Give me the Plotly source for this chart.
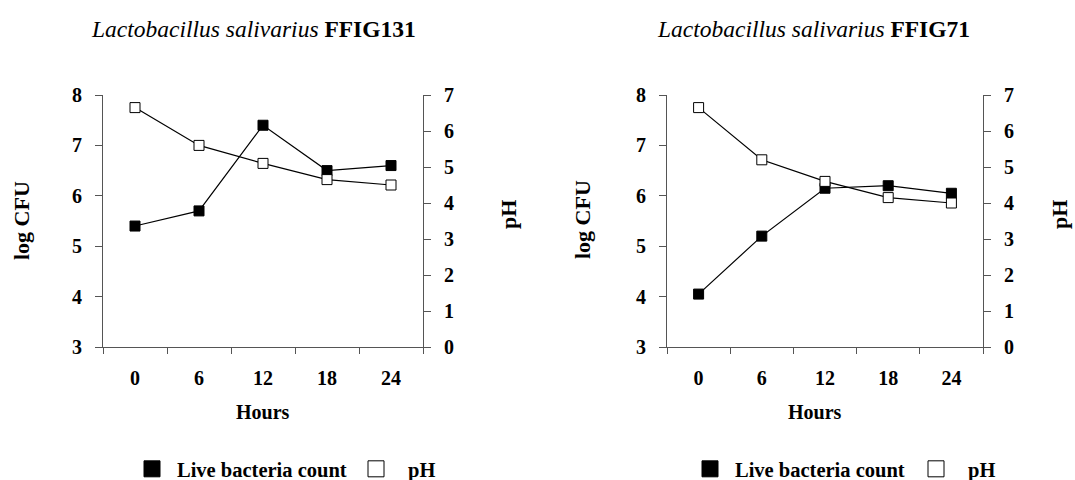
import plotly.graph_objects as go

# ---- data ----
hours = ["0", "6", "12", "18", "24"]
live_131 = [5.4, 5.7, 7.4, 6.5, 6.6]
ph_131 = [6.65, 5.6, 5.1, 4.65, 4.5]
live_71 = [4.05, 5.2, 6.15, 6.2, 6.05]
ph_71 = [6.65, 5.2, 4.6, 4.15, 4.0]
titles = ["<i>Lactobacillus salivarius</i> <b>FFIG131</b>",
          "<i>Lactobacillus salivarius</i> <b>FFIG71</b>"]
series_names = ["Live bacteria count", "pH"]
left_ticks = [3, 4, 5, 6, 7, 8]
right_ticks = [0, 1, 2, 3, 4, 5, 6, 7]

W, H = 1075, 480
FONT = "Liberation Serif"
AX = "#555555"


def px(x):
    return x / W


def py(y):
    return 1 - y / H


fig = go.Figure()

panels = [
    dict(live=live_131, ph=ph_131, title=titles[0], x0=103, x1=423,
         xa="x", ya="y", ya2="y2", legends=("legend", "legend2"), lx=(127, 344),
         ttl_x=253, ylab_x=22, phlab_x=508, hours_x=263),
    dict(live=live_71, ph=ph_71, title=titles[1], x0=667, x1=983,
         xa="x2", ya="y3", ya2="y4", legends=("legend3", "legend4"), lx=(685, 904),
         ttl_x=813, ylab_x=583, phlab_x=1059, hours_x=815),
]

marker_line = dict(color="black", width=1)
for p in panels:
    fig.add_trace(go.Scatter(
        x=hours, y=p["live"], xaxis=p["xa"], yaxis=p["ya"], mode="lines+markers",
        line=dict(color="black", width=1.2),
        marker=dict(symbol="square", size=10, color="black", line=marker_line),
        showlegend=False, name=series_names[0]))
    fig.add_trace(go.Scatter(
        x=hours, y=p["ph"], xaxis=p["xa"], yaxis=p["ya2"], mode="lines+markers",
        line=dict(color="black", width=1.2),
        marker=dict(symbol="square", size=10, color="white", line=marker_line),
        showlegend=False, name=series_names[1]))
    # legend-only entries
    fig.add_trace(go.Scatter(
        x=[None], y=[None], xaxis=p["xa"], yaxis=p["ya"], mode="markers",
        marker=dict(symbol="square", size=16, color="black", line=marker_line),
        name=series_names[0], legend=p["legends"][0]))
    fig.add_trace(go.Scatter(
        x=[None], y=[None], xaxis=p["xa"], yaxis=p["ya"], mode="markers",
        marker=dict(symbol="square", size=16, color="white", line=marker_line),
        name=series_names[1], legend=p["legends"][1]))

ydom = [py(347), py(95)]
tickfont = dict(family=FONT, size=20, color="black", weight="bold")


def xaxis_cfg(x0, x1, anchor):
    return dict(domain=[px(x0), px(x1)], anchor=anchor, type="category",
                categoryorder="array", categoryarray=hours,
                range=[-0.5, 4.5], tickson="boundaries", ticks="outside",
                ticklen=6, tickcolor=AX, showline=True, linecolor=AX, linewidth=1,
                showgrid=False, zeroline=False, tickfont=tickfont,
                ticklabelstandoff=13, fixedrange=True)


def yaxis_left(anchor):
    return dict(domain=ydom, anchor=anchor, range=[3, 8], tickvals=left_ticks,
                ticks="outside", ticklen=7, tickcolor=AX, showline=True,
                linecolor=AX, linewidth=1, showgrid=False, zeroline=False,
                tickfont=tickfont, ticklabelstandoff=9)


def yaxis_right(anchor, overlay):
    return dict(domain=ydom, anchor=anchor, overlaying=overlay, side="right",
                range=[0, 7], tickvals=right_ticks, ticks="outside", ticklen=7,
                tickcolor=AX, showline=True, linecolor=AX, linewidth=1,
                showgrid=False, zeroline=False, tickfont=tickfont,
                ticklabelstandoff=9)


def legend_cfg(x, itemwidth):
    return dict(x=px(x), y=py(469), orientation="h", yanchor="middle", xanchor="left",
                itemwidth=itemwidth,
                font=dict(family=FONT, size=20.5, color="black", weight="bold"),
                bgcolor="rgba(0,0,0,0)", itemclick=False, itemdoubleclick=False)


fig.update_layout(
    width=W, height=H, margin=dict(l=0, r=0, t=0, b=0, pad=0, autoexpand=False),
    paper_bgcolor="white", plot_bgcolor="white",
    font=dict(family=FONT, color="black"),
    xaxis=xaxis_cfg(103, 423, "y"),
    yaxis=yaxis_left("x"),
    yaxis2=yaxis_right("x", "y"),
    xaxis2=xaxis_cfg(667, 983, "y3"),
    yaxis3=yaxis_left("x2"),
    yaxis4=yaxis_right("x2", "y3"),
    legend=legend_cfg(panels[0]["lx"][0], 40),
    legend2=legend_cfg(panels[0]["lx"][1], 54),
    legend3=legend_cfg(panels[1]["lx"][0], 40),
    legend4=legend_cfg(panels[1]["lx"][1], 54),
)

ann_font = dict(family=FONT, size=22, color="black", weight="bold")
for p in panels:
    fig.add_annotation(text=p["title"], x=px(p["ttl_x"]), y=py(29), xref="paper",
                       yref="paper", showarrow=False, xanchor="center", yanchor="middle",
                       font=dict(family=FONT, size=23.5, color="black"))
    fig.add_annotation(text="log CFU", x=px(p["ylab_x"]), y=py(220), xref="paper",
                       yref="paper", showarrow=False, textangle=-90, xanchor="center",
                       yanchor="middle", font=ann_font)
    fig.add_annotation(text="pH", x=px(p["phlab_x"]), y=py(215), xref="paper",
                       yref="paper", showarrow=False, textangle=-90, xanchor="center",
                       yanchor="middle", font=ann_font)
    fig.add_annotation(text="Hours", x=px(p["hours_x"]), y=py(412), xref="paper",
                       yref="paper", showarrow=False, xanchor="center", yanchor="middle",
                       font=dict(family=FONT, size=20, color="black", weight="bold"))

# remove the default page margin so the 1075x480 figure fills the window exactly
fig.write_html("out.html", config={"displayModeBar": False},
               post_script="document.body.style.margin='0';"
                           "document.documentElement.style.overflow='hidden';")
